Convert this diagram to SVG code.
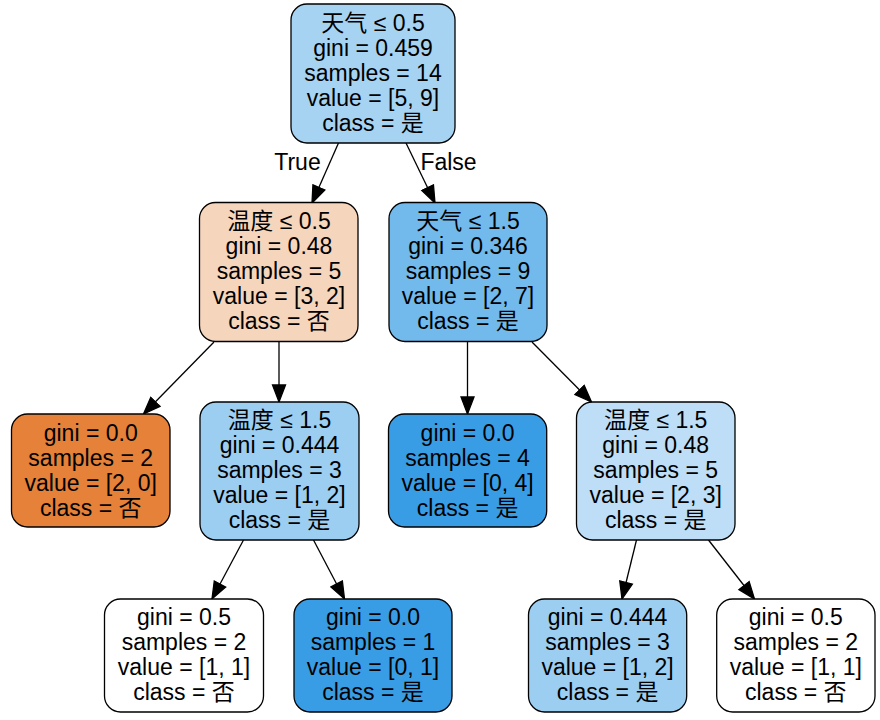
<svg xmlns="http://www.w3.org/2000/svg" width="880" height="720" viewBox="0 0 880 720">
<defs>
<style>
.n rect{stroke:#000;stroke-width:1.3}
text{font-family:"Liberation Sans","Noto Sans CJK SC",sans-serif;font-size:23px;fill:#000;text-anchor:middle}
.e line{stroke:#000;stroke-width:1.3;marker-end:url(#ah)}
</style>
<marker id="ah" markerUnits="userSpaceOnUse" markerWidth="20" markerHeight="16" viewBox="0 -8 18 16" refX="17" refY="0" orient="auto">
<path d="M0,-6.5 L17,0 L0,6.5 Z" fill="#000" stroke="#000" stroke-width="1.3"/>
</marker>
</defs>
<rect width="880" height="720" fill="#fff"/>
<g class="e" id="edges">
<line x1="338.5" y1="143" x2="312" y2="203"/>
<line x1="406" y1="143" x2="435" y2="203"/>
<line x1="214" y1="342" x2="143.5" y2="414"/>
<line x1="279" y1="342" x2="279" y2="402"/>
<line x1="467.5" y1="342" x2="467.5" y2="414"/>
<line x1="532" y1="342" x2="591.5" y2="402"/>
<line x1="243.5" y1="540" x2="212" y2="599"/>
<line x1="313.5" y1="540" x2="344.5" y2="599"/>
<line x1="636.5" y1="540" x2="622" y2="599"/>
<line x1="708.5" y1="540" x2="754.5" y2="599"/>
<text x="297.5" y="169.5">True</text>
<text x="448.5" y="169.5">False</text>
</g>
<g class="n" id="node0">
<rect x="291" y="4" width="164" height="139" rx="16" fill="#a7d3f3"/>
<text x="373" y="30.5">天气 ≤ 0.5</text>
<text x="373" y="55.5">gini = 0.459</text>
<text x="373" y="80.5">samples = 14</text>
<text x="373" y="105.5">value = [5, 9]</text>
<text x="373" y="130.5">class = 是</text>
</g>
<g class="n" id="node1">
<rect x="199.5" y="202.5" width="158.5" height="139" rx="16" fill="#f6d5bd"/>
<text x="279" y="229">温度 ≤ 0.5</text>
<text x="279" y="254">gini = 0.48</text>
<text x="279" y="279">samples = 5</text>
<text x="279" y="304">value = [3, 2]</text>
<text x="279" y="329">class = 否</text>
</g>
<g class="n" id="node2">
<rect x="389" y="202.5" width="158" height="139" rx="16" fill="#72b9ec"/>
<text x="468" y="229">天气 ≤ 1.5</text>
<text x="468" y="254">gini = 0.346</text>
<text x="468" y="279">samples = 9</text>
<text x="468" y="304">value = [2, 7]</text>
<text x="468" y="329">class = 是</text>
</g>
<g class="n" id="node3">
<rect x="11.5" y="414" width="158.5" height="113" rx="16" fill="#e58139"/>
<text x="90.7" y="440.5">gini = 0.0</text>
<text x="90.7" y="465.5">samples = 2</text>
<text x="90.7" y="490.5">value = [2, 0]</text>
<text x="90.7" y="515.5">class = 否</text>
</g>
<g class="n" id="node4">
<rect x="200" y="402" width="159" height="138" rx="16" fill="#9ccef2"/>
<text x="279.5" y="428">温度 ≤ 1.5</text>
<text x="279.5" y="453">gini = 0.444</text>
<text x="279.5" y="478">samples = 3</text>
<text x="279.5" y="503">value = [1, 2]</text>
<text x="279.5" y="528">class = 是</text>
</g>
<g class="n" id="node5">
<rect x="388.5" y="414" width="158.2" height="113" rx="16" fill="#399de5"/>
<text x="467.6" y="440.5">gini = 0.0</text>
<text x="467.6" y="465.5">samples = 4</text>
<text x="467.6" y="490.5">value = [0, 4]</text>
<text x="467.6" y="515.5">class = 是</text>
</g>
<g class="n" id="node6">
<rect x="576.5" y="402" width="158.5" height="138" rx="16" fill="#bddef6"/>
<text x="655.7" y="428">温度 ≤ 1.5</text>
<text x="655.7" y="453">gini = 0.48</text>
<text x="655.7" y="478">samples = 5</text>
<text x="655.7" y="503">value = [2, 3]</text>
<text x="655.7" y="528">class = 是</text>
</g>
<g class="n" id="node7">
<rect x="104.5" y="599" width="159" height="113" rx="16" fill="#ffffff"/>
<text x="184" y="625">gini = 0.5</text>
<text x="184" y="650">samples = 2</text>
<text x="184" y="675">value = [1, 1]</text>
<text x="184" y="700">class = 否</text>
</g>
<g class="n" id="node8">
<rect x="294" y="599" width="158" height="113" rx="16" fill="#399de5"/>
<text x="373" y="625">gini = 0.0</text>
<text x="373" y="650">samples = 1</text>
<text x="373" y="675">value = [0, 1]</text>
<text x="373" y="700">class = 是</text>
</g>
<g class="n" id="node9">
<rect x="528.5" y="599" width="158.2" height="113" rx="16" fill="#9ccef2"/>
<text x="607.6" y="625">gini = 0.444</text>
<text x="607.6" y="650">samples = 3</text>
<text x="607.6" y="675">value = [1, 2]</text>
<text x="607.6" y="700">class = 是</text>
</g>
<g class="n" id="node10">
<rect x="716.7" y="599" width="158.3" height="113" rx="16" fill="#ffffff"/>
<text x="795.8" y="625">gini = 0.5</text>
<text x="795.8" y="650">samples = 2</text>
<text x="795.8" y="675">value = [1, 1]</text>
<text x="795.8" y="700">class = 否</text>
</g>
</svg>
